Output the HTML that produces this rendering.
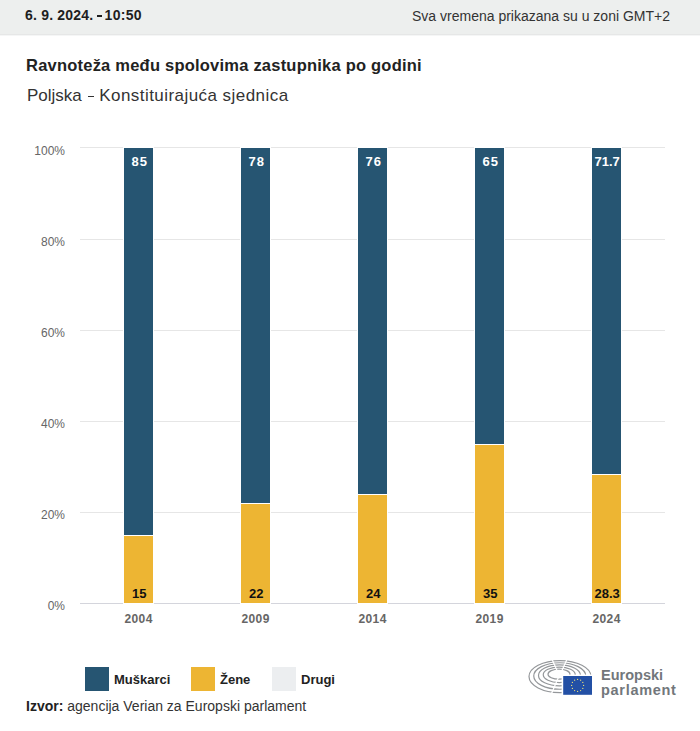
<!DOCTYPE html>
<html><head><meta charset="utf-8">
<style>
*{margin:0;padding:0;box-sizing:border-box}
html,body{width:700px;height:731px;background:#fff;overflow:hidden;font-family:"Liberation Sans",sans-serif;color:#222}
.abs{position:absolute;white-space:nowrap}
#hdr{position:absolute;left:0;top:0;width:700px;height:35px;background:#edefee;border-bottom:1px solid #e6e7e7;box-shadow:0 1px 0 #f5f6f6}
#date{left:25px;top:6px;font-size:14px;letter-spacing:0.2px;font-weight:bold;color:#1e1e1e;line-height:18px}
#date2{left:104.6px;top:6px;font-size:14px;letter-spacing:0.3px;font-weight:bold;color:#1e1e1e;line-height:18px}
#tz{right:30px;top:7px;font-size:14px;color:#333;line-height:18px}
#title{left:26px;top:55px;font-size:16.5px;letter-spacing:0.22px;font-weight:bold;color:#222;line-height:20px}
#sub{left:27px;top:86px;font-size:17px;color:#333;line-height:20px}
#sub2{left:99.2px;top:86px;font-size:17px;letter-spacing:0.45px;color:#333;line-height:20px}
.yl{font-size:12px;color:#666;line-height:14px;text-align:right;width:40px;left:25px;transform:scaleY(1.13)}
.grid{position:absolute;left:80px;width:585px;height:1px;background:#e6e6e6}
.bar{position:absolute;width:29px;box-shadow:0 0 0 1px #fff}
.m{background:#265572}
.f{background:#edb533}
.vl{position:absolute;width:29px;text-align:center;margin-left:0.7px;font-size:13px;font-weight:bold;line-height:14px}
.xl{position:absolute;width:60px;text-align:center;letter-spacing:0.4px;margin-left:0.6px;font-size:12px;font-weight:bold;color:#666;line-height:14px;top:612px}
.sq{position:absolute;top:667px;width:24px;height:24px}
.lt{top:672px;font-size:13px;font-weight:bold;color:#222;line-height:16px}
#src{left:26px;top:698px;font-size:14px;color:#333;line-height:16px}
#src b{color:#222}
</style></head><body>
<div id="hdr"></div>
<div class="abs" id="date">6. 9. 2024.</div><div style="position:absolute;left:96.6px;top:15px;width:5.2px;height:2px;background:#1e1e1e"></div><div class="abs" id="date2">10:50</div>
<div class="abs" id="tz">Sva vremena prikazana su u zoni GMT+2</div>
<div class="abs" id="title">Ravnoteža među spolovima zastupnika po godini</div>
<div class="abs" id="sub">Poljska</div><div style="position:absolute;left:87.7px;top:95.5px;width:6.4px;height:1.2px;background:#333"></div><div class="abs" id="sub2">Konstituirajuća sjednica</div>

<div class="grid" style="top:147px"></div>
<div class="grid" style="top:239px"></div>
<div class="grid" style="top:330px"></div>
<div class="grid" style="top:421px"></div>
<div class="grid" style="top:512px"></div>
<div class="grid" style="top:603px;background:#d4d5dc"></div>

<div class="abs yl" style="top:143px">100%</div>
<div class="abs yl" style="top:234px">80%</div>
<div class="abs yl" style="top:325px">60%</div>
<div class="abs yl" style="top:416px">40%</div>
<div class="abs yl" style="top:507px">20%</div>
<div class="abs yl" style="top:598px">0%</div>

<!-- bars: 100% at 148, 0% at 603 -->
<div class="bar m" style="left:124px;top:148px;height:387px"></div>
<div class="bar f" style="left:124px;top:536px;height:67px"></div>
<div class="bar m" style="left:241px;top:148px;height:355px"></div>
<div class="bar f" style="left:241px;top:504px;height:99px"></div>
<div class="bar m" style="left:358px;top:148px;height:346px"></div>
<div class="bar f" style="left:358px;top:495px;height:108px"></div>
<div class="bar m" style="left:475px;top:148px;height:296px"></div>
<div class="bar f" style="left:475px;top:445px;height:158px"></div>
<div class="bar m" style="left:592px;top:148px;height:326px"></div>
<div class="bar f" style="left:592px;top:475px;height:128px"></div>

<div class="vl" style="left:124px;top:155px;color:#fff;letter-spacing:1px;padding-left:1px">85</div>
<div class="vl" style="left:241px;top:155px;color:#fff;letter-spacing:1px;padding-left:1px">78</div>
<div class="vl" style="left:358px;top:155px;color:#fff;letter-spacing:1px;padding-left:1px">76</div>
<div class="vl" style="left:475px;top:155px;color:#fff;letter-spacing:1px;padding-left:1px">65</div>
<div class="vl" style="left:592px;top:155px;color:#fff">71.7</div>
<div class="vl" style="left:124px;top:587px;color:#111">15</div>
<div class="vl" style="left:241px;top:587px;color:#111">22</div>
<div class="vl" style="left:358px;top:587px;color:#111">24</div>
<div class="vl" style="left:475px;top:587px;color:#111">35</div>
<div class="vl" style="left:592px;top:587px;color:#111">28.3</div>

<div class="xl" style="left:108px">2004</div>
<div class="xl" style="left:225px">2009</div>
<div class="xl" style="left:342px">2014</div>
<div class="xl" style="left:459px">2019</div>
<div class="xl" style="left:576px">2024</div>

<div class="sq m" style="left:85px"></div>
<div class="abs lt" style="left:114px">Muškarci</div>
<div class="sq f" style="left:191px"></div>
<div class="abs lt" style="left:220px">Žene</div>
<div class="sq" style="left:272px;background:#eceef0"></div>
<div class="abs lt" style="left:301px">Drugi</div>

<svg style="position:absolute;left:526px;top:656px" width="70" height="42" viewBox="526 656 70 42">
<g fill="none" stroke="#94979a" stroke-width="1.2">
<ellipse cx="560.00" cy="676.60" rx="31.00" ry="16.00"/><ellipse cx="559.75" cy="676.00" rx="26.00" ry="13.25"/><ellipse cx="559.50" cy="675.40" rx="21.00" ry="10.50"/><ellipse cx="559.25" cy="674.80" rx="16.00" ry="7.75"/><ellipse cx="559.00" cy="674.20" rx="11.00" ry="5.00"/>
</g>
<g stroke="#fff" stroke-width="1.3">
<line x1="559" y1="675" x2="551" y2="657"/>
<line x1="560" y1="675" x2="568" y2="657"/>
<line x1="559" y1="676" x2="550" y2="697"/>
</g>
<rect x="561.6" y="674.6" width="34" height="24" fill="#fff"/>
<rect x="563.2" y="676" width="28.8" height="18.8" fill="#2350a5"/>
<g fill="#e9dc7a">
<circle cx="577.60" cy="679.40" r="0.65"/><circle cx="580.60" cy="680.20" r="0.65"/><circle cx="582.80" cy="682.40" r="0.65"/><circle cx="583.60" cy="685.40" r="0.65"/><circle cx="582.80" cy="688.40" r="0.65"/><circle cx="580.60" cy="690.60" r="0.65"/><circle cx="577.60" cy="691.40" r="0.65"/><circle cx="574.60" cy="690.60" r="0.65"/><circle cx="572.40" cy="688.40" r="0.65"/><circle cx="571.60" cy="685.40" r="0.65"/><circle cx="572.40" cy="682.40" r="0.65"/><circle cx="574.60" cy="680.20" r="0.65"/>
</g>
</svg>
<div class="abs" style="left:601px;top:667px;font-size:14.5px;font-weight:bold;color:#72777b;line-height:16px">Europski</div>
<div class="abs" style="left:601px;top:682px;font-size:14.5px;font-weight:bold;color:#72777b;line-height:16px;letter-spacing:0.7px">parlament</div>

<div class="abs" id="src"><b>Izvor:</b> agencija Verian za Europski parlament</div>

</body></html>
